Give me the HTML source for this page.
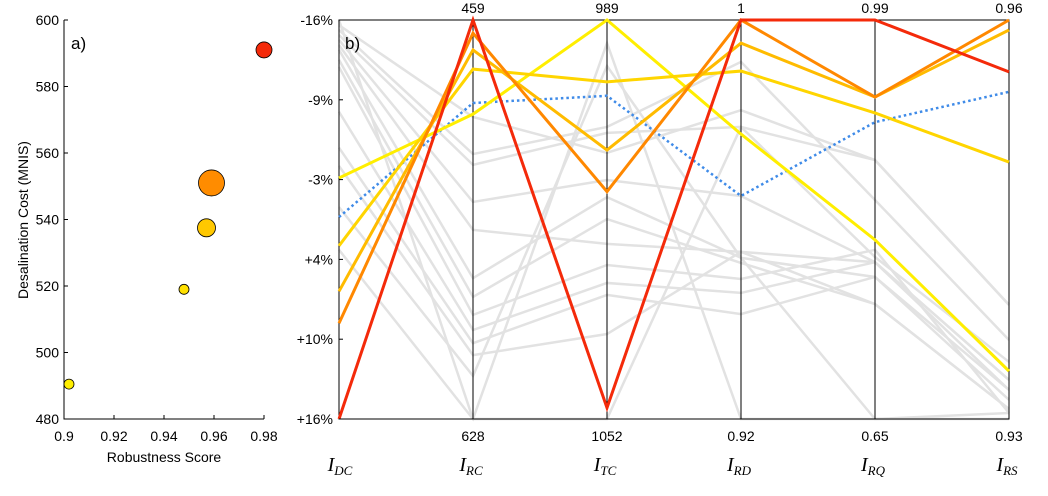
<!DOCTYPE html>
<html><head><meta charset="utf-8"><style>
body{margin:0;background:#fff;width:1048px;height:491px;overflow:hidden}
svg{font-family:"Liberation Sans",sans-serif}
</style></head><body>
<svg width="1048" height="491">
<g id="left"></g>
<g id="right"></g>
</svg>
<script>
const NS="http://www.w3.org/2000/svg";
// scatter data
const robustness=[0.902,0.948,0.957,0.959,0.98];
const cost=[490.5,519,537.5,551,591];
const sizes=[5,5,9,13,8];
const ptColors=["#ffee00","#ffe000","#ffc800","#ff8c00","#f42a0a"];
const xTicks=[0.9,0.92,0.94,0.96,0.98];
const yTicks=[480,500,520,540,560,580,600];
// parallel data (0 = top of axis, 100 = bottom)
const axisNames=["DC","RC","TC","RD","RQ","RS"];
const topLabels=["","459","989","1","0.99","0.96"];
const bottomLabels=["","628","1052","0.92","0.65","0.93"];
const pctTicks=["-16%","-9%","-3%","+4%","+10%","+16%"];
const grayLines=[
[1.3,24.3,33.3,22.6,35.1,71.4],
[2.5,33.6,26.8,10.5,45.1,80.2],
[3.8,36.3,28.3,26.8,59.4,85.7],
[5,45.6,40.1,44.1,60.7,90.2],
[6.3,52.6,56.1,58.1,60.7,92.7],
[7.5,64.7,44.4,59.6,64.4,95.2],
[10,69.4,49.9,60.9,71.2,97.5],
[11.8,73.9,61.4,64.9,57.6,98.5],
[23,77.7,65.9,68.4,60.7,90.2],
[32,81,68.9,73.7,64.4,92.7],
[36.6,84,78.7,58.1,71.2,97.5],
[46.9,89.2,11.5,59.6,100,98.5],
[57.6,100,5.8,100,100,100],
[0,100,100,26.8,35.1,71.4]];
const colorLines=[
[39.6,23.6,0,28.6,55.1,88],
[56.6,12.3,15.5,12.8,23.3,35.6],
[68,7.5,32.6,5.8,19.3,2.5],
[76,3.3,43,0,19.3,0],
[100,0,97.2,0,0,13]];
const lineColors=["#ffee00","#ffd500","#ffbb00","#ff8800","#f42a0a"];
const blueLine=[49.4,20.8,19,44.1,25.6,18];

function el(tag,attrs,parent,text){const e=document.createElementNS(NS,tag);for(const k in attrs)e.setAttribute(k,attrs[k]);if(text!==undefined)e.textContent=text;parent.appendChild(e);return e;}
const L=document.getElementById('left'),R=document.getElementById('right');
const sx=v=>64+(v-0.9)/0.08*200, sy=v=>419-(v-480)/120*399;
let a=el('path',{d:"M64 20V419H264",fill:"none",stroke:"#000","stroke-width":1},L);

xTicks.forEach(t=>{el('line',{x1:sx(t),x2:sx(t),y1:419,y2:415,stroke:"#000"},L);
 const tx=el('text',{x:sx(t),y:441,"text-anchor":"middle","font-size":14},L,String(t));
 });
yTicks.forEach(t=>{el('line',{x1:64,x2:68,y1:sy(t),y2:sy(t),stroke:"#000"},L);
 const tx=el('text',{x:59,y:sy(t)+5,"text-anchor":"end","font-size":14},L,String(t));
 });
let t=el('text',{x:164,y:462,"text-anchor":"middle","font-size":14},L,"Robustness Score");

t=el('text',{x:28,y:220,"text-anchor":"middle","font-size":14,transform:"rotate(-90 28 220)"},L,"Desalination Cost (MNIS)");

t=el('text',{x:71,y:49,"font-size":17},L,"a)");

robustness.forEach((r,i)=>{const c=el('circle',{cx:sx(r),cy:sy(cost[i]),r:sizes[i],fill:ptColors[i],stroke:"#000","stroke-width":0.8},L);
 });
const axX=i=>339+i*(670/5), py=v=>20+v/100*399;
function poly(vals,attrs,name){const p=el('polyline',Object.assign({points:vals.map((v,i)=>axX(i)+","+py(v)).join(" "),fill:"none","stroke-linejoin":"miter"},attrs),R);
 }
grayLines.forEach(g=>poly(g,{stroke:"#e2e2e2","stroke-width":2.5},'gray-solution-line'));
axisNames.forEach((n,i)=>{const l=el('line',{x1:axX(i),x2:axX(i),y1:20,y2:419,stroke:"#000","stroke-width":1},R);
 });
const fr=el('rect',{x:339,y:20,width:670,height:399,fill:"none",stroke:"#000","stroke-width":1},R);

poly(blueLine,{stroke:"#3f8be8","stroke-width":2.5,"stroke-dasharray":"2.5 3"},'baseline-dotted-line');
colorLines.forEach((c,i)=>poly(c,{stroke:lineColors[i],"stroke-width":3},'selected-solution-line'));
pctTicks.forEach((p,i)=>{const y=20+i*399/5;el('line',{x1:339,x2:343,y1:y,y2:y,stroke:"#000"},R);
 const tx=el('text',{x:333,y:y+5,"text-anchor":"end","font-size":14},R,p);
 });
axisNames.forEach((n,i)=>{
 if(topLabels[i]){const tx=el('text',{x:axX(i),y:13,"text-anchor":"middle","font-size":14},R,topLabels[i]);
  }
 if(bottomLabels[i]){const tx=el('text',{x:axX(i),y:441,"text-anchor":"middle","font-size":14},R,bottomLabels[i]);
  }
 const tx=el('text',{x:axX(i)-2+(i==0?3:0),y:471,"text-anchor":"middle","font-size":20,"font-style":"italic","font-family":"Liberation Serif, serif"},R);
 
 el('tspan',{},tx,"I");el('tspan',{"font-size":13,dy:4},tx,n);
});
t=el('text',{x:345,y:49,"font-size":17},R,"b)");

</script>
</body></html>
